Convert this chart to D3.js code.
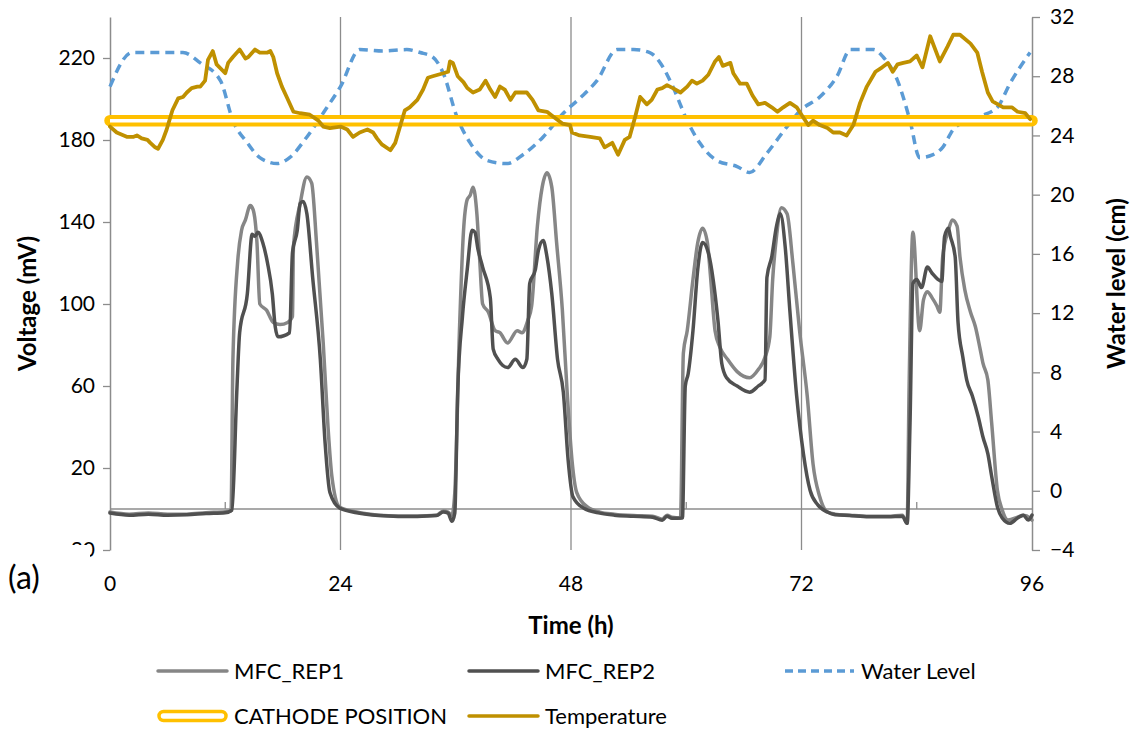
<!DOCTYPE html>
<html>
<head>
<meta charset="utf-8">
<script src="https://cdn.jsdelivr.net/npm/d3@7"></script>
<style>
  body { margin: 0; background: #fff; }
  text { font-family: Lato, "Open Sans", sans-serif; fill: #000; }
</style>
</head>
<body>
<script>
// chart data

// MFC replicate 1 (mV)
var rep1Hours = [0,2,4,6,8,10,12,12.6,12.8,13.3,13.7,14.1,14.6,14.9,15.3,15.6,16.3,17.0,17.7,18.5,19.0,19.1,19.8,20.5,21.0,21.5,22.2,22.7,23.1,23.9,25.7,28,30,32,34,34.7,35.2,35.6,
  35.9,36.4,36.8,37.2,37.5,37.8,38.2,38.5,38.8,39.4,40.1,40.6,41.4,42.4,42.9,43.5,43.9,44.5,45.0,45.5,46.0,46.5,47.1,47.6,48.1,48.6,49.7,51.0,52.5,54.5,56.5,57.5,58.0,58.5,59.4,
  59.7,60.1,60.7,61.2,61.7,62.2,62.5,63.0,63.5,64.3,65.3,66.6,67.5,68.2,68.7,69.0,69.4,69.9,70.5,71.1,71.8,72.6,73.2,73.9,74.7,75.5,77,79,81,82.5,83.0,
  83.2,83.6,84.3,84.7,85.1,85.6,86.1,86.4,86.7,87.3,87.7,88.2,88.5,89.0,89.6,90.1,90.6,90.9,91.4,91.8,92.4,92.9,93.5,94.5,95.1,95.8,96];
var rep1Values = [-1.5,-2.5,-2,-2.5,-2.5,-1.8,-1.3,-1,73,121,136,141,148,146,130,100,97,91,90,91,94,128,149,162,159,130,81,40,16,1,-1.5,-3,-3.4,-3.4,-3,-1,-1.5,-3,
  8,89,135,151,153,157,144,121,100,96,87,86,81,87,86,92,99,138,157,164,157,130,97,57,24,8,1,-1.5,-2.5,-3.2,-3.5,-5,-3,-4,-4.4,
  76,87,112,130,137,130,115,87,79,73,67,64,68,74,84,112,133,147,144,120,87,55,22,6,-1.5,-2.5,-3,-3.5,-3.5,-3,-7,
  58,135,87,102,106,103,99,96,123,136,141,138,123,107,96,89,78,71,63,42,9,-0.5,-5.4,-4,-3,-4.4,-5.4];

// MFC replicate 2 (mV)
var rep2Hours = [0,2,4,6,8,10,12,12.7,13.2,13.5,14.3,14.8,15.1,15.4,15.9,16.4,16.9,17.2,17.5,18.7,19.0,19.5,19.8,20.1,20.5,21.1,21.9,22.4,22.9,23.9,25.7,28,30,32,34,34.7,35.2,35.6,
  35.9,36.2,36.7,37.2,37.7,38.0,38.3,38.8,39.6,39.9,40.4,40.9,41.4,42.2,43.0,43.4,43.7,44.3,44.6,45.1,45.5,46.0,46.6,47.2,47.7,48.2,49.3,51.0,52.5,54.5,56.5,57.5,58.0,58.5,
  59.6,59.9,60.2,60.7,61.2,61.7,62.3,62.8,63.3,63.7,64.2,65.3,66.6,67.5,68.2,68.4,68.9,69.4,69.8,70.3,70.8,71.5,72.2,72.9,73.7,74.7,75.5,77,79,81,82.5,83.0,
  83.3,83.6,84.0,84.5,85.1,85.6,86.2,86.6,86.9,87.3,87.5,88.0,88.3,88.8,89.2,89.8,90.4,90.9,91.4,91.8,92.4,92.9,93.7,94.5,95.1,95.6,96];
var rep2Values = [-2,-3,-2.5,-3,-2.8,-2.2,-1.8,-0.5,57,86,105,134,133,135,130,120,105,89,84,86,125,136,149,150,144,113,73,32,8,0.5,-1.8,-3.2,-3.6,-3.6,-3.2,-1.5,-2,-6,
  -2,57,94,117,136,135,127,118,103,78,73,70,69,73,69,73,110,117,126,131,123,105,73,57,24,6,0.5,-2,-3,-3.5,-4,-5.5,-3.5,-4.5,
  -4.4,60,66,87,117,130,125,112,92,71,64,60,57,60,63,113,123,138,144,128,96,55,27,9,2,-1.5,-2.8,-3.2,-3.8,-3.8,-3.5,-7,
  42,110,112,108,118,115,112,111,133,137,133,123,91,74,63,55,45,35,27,16,1,-4.4,-7,-4.4,-3,-5.4,-3];

// water level (cm)
var waterHours = [0,2.3,4.5,7.6,9.4,11.5,12.8,14.3,15.6,17.4,18.7,20.5,22.6,24.0,26.0,28.4,30.9,32.3,33.6,34.7,36.1,37.5,39.3,41.3,43.0,45.1,47.2,48.9,
  50.7,52.8,54.5,56.2,57.3,58.6,60.1,61.4,63.2,65.3,66.6,68.4,70.5,71.9,73.9,75.7,77.1,79.5,80.5,82.0,83.3,84.3,85.7,86.7,87.8,88.8,90.6,92.4,93.7,95.8];
var waterValues = [27.3,29.6,29.6,29.6,28.9,27.7,25.0,23.5,22.5,22.1,22.5,23.9,25.9,27.3,29.8,29.7,29.8,29.6,29.3,28.2,25.3,23.5,22.3,22.1,22.7,23.9,25.5,26.5,
  27.7,29.8,29.8,29.6,28.9,27.3,25.0,23.5,22.3,21.9,21.5,22.8,24.6,25.7,26.6,28.0,29.8,29.8,29.3,27.7,25.0,22.5,22.7,23.2,24.4,24.9,25.3,25.9,27.5,29.6];

// cathode position (cm)
var cathodeHours = [0, 96];
var cathodeValues = [25, 25];

// temperature (secondary axis)
var tempHours = [0,0.7,1.8,2.4,2.8,3.3,3.9,4.2,4.7,5.0,5.5,5.9,6.5,7.1,7.6,8.0,8.5,9.1,9.4,9.9,10.2,10.7,11.1,12.0,12.3,12.8,13.5,14.1,14.4,15.1,15.6,16.4,16.7,17.0,17.4,17.9,18.4,19.1,19.8,20.8,21.7,22.2,22.9,
  24.0,24.7,25.3,26.0,26.8,27.4,27.8,28.3,29.2,29.7,30.2,30.7,31.2,32.0,32.6,33.1,33.6,34.7,35.2,35.4,35.7,36.2,36.8,37.2,37.8,38.5,39.1,39.6,40.1,40.6,41.1,41.7,42.2,42.9,43.4,44.0,44.6,45.5,46.1,47.1,47.9,
  48.1,48.9,50.0,51.0,51.5,52.3,52.9,53.6,54.1,54.7,55.2,55.9,56.4,57.0,57.5,58.0,58.6,59.4,60.1,60.6,61.1,61.7,62.3,63.0,63.4,63.8,64.6,64.9,65.6,66.3,66.9,67.5,68.2,68.9,69.5,70.1,70.8,71.5,
  72.1,72.7,73.2,73.9,74.7,75.3,76.0,76.7,77.4,78.1,78.8,79.7,80.4,81.0,81.5,82.0,82.6,83.3,84.0,84.6,85.4,86.4,87.2,87.8,88.5,89.6,90.3,90.8,91.4,91.9,93.0,93.9,94.5,95.3,95.8];
var tempValues = [24.6,24.2,23.9,23.9,24.0,23.8,23.7,23.5,23.2,23.1,23.7,24.4,25.7,26.5,26.6,26.9,27.2,27.3,27.3,27.7,29.1,29.7,28.8,28.2,28.9,29.3,29.8,29.2,29.3,29.8,29.6,29.6,29.7,29.3,28.2,27.3,26.6,25.6,25.5,25.4,25.0,24.6,24.5,
  24.6,24.4,23.9,24.2,24.4,24.2,23.8,23.4,23.0,23.5,24.6,25.7,25.9,26.4,27.1,27.9,28.0,28.2,28.3,29.0,28.9,28.0,27.6,27.2,26.9,27.1,27.7,27.1,26.6,27.3,27.1,26.4,26.9,26.9,26.9,26.4,25.7,25.6,25.3,24.8,24.7,
  24.2,24.0,23.9,23.8,23.2,23.5,22.7,23.7,23.9,25.3,26.6,26.1,26.4,27.1,27.2,27.4,27.2,26.9,27.3,27.7,27.5,27.7,28.1,29.0,29.3,28.7,28.9,28.2,27.5,27.5,26.7,26.1,26.2,25.9,25.6,25.9,26.2,25.9,
  25.3,24.7,25.0,24.7,24.5,24.2,24.2,24.0,24.7,26.2,27.3,28.3,28.6,28.9,28.3,28.8,28.9,29.0,29.4,28.6,30.7,29.0,30.0,30.8,30.8,30.2,29.6,28.3,26.9,26.3,25.9,25.9,25.6,25.5,25.1];

// tick labels
var xTicks = [0, 24, 48, 72, 96];
var xMinorTicks = [12, 36, 60, 84];
var leftTicks = [-20, 20, 60, 100, 140, 180, 220];
var rightTicks = [-4, 0, 4, 8, 12, 16, 20, 24, 28, 32];

// colours
var cRep1 = "#868686", cRep2 = "#505050", cWater = "#5B9BD5", cCathode = "#FFC000", cTemp = "#BF9000";
var axisColor = "#8c8c8c";

var width = 1133, height = 736;
var margin = {left: 110, right: 101, top: 17, bottom: 186};

var svg = d3.select("body").append("svg")
  .attr("width", width)
  .attr("height", height);

svg.append("rect").attr("width", width).attr("height", height).attr("fill", "#fff");

var xScale = d3.scaleLinear().domain([0, 96]).range([margin.left, width - margin.right]);
var yLeft = d3.scaleLinear().domain([-20, 240]).range([height - margin.bottom, margin.top]);
var yRight = d3.scaleLinear().domain([-4, 32]).range([height - margin.bottom, margin.top]);

var x0 = xScale(0), x1 = xScale(96), yTop = margin.top, yBot = height - margin.bottom;

// vertical gridlines
svg.selectAll(".grid").data([24, 48, 72]).enter().append("line")
  .attr("x1", function(d){ return xScale(d); })
  .attr("x2", function(d){ return xScale(d); })
  .attr("y1", yTop).attr("y2", yBot)
  .attr("stroke", axisColor).attr("stroke-width", 1.3);

// horizontal axis at 0 mV
svg.append("line")
  .attr("x1", x0).attr("x2", x1)
  .attr("y1", yLeft(0)).attr("y2", yLeft(0))
  .attr("stroke", axisColor).attr("stroke-width", 1.5);

svg.selectAll(".minor").data(xMinorTicks).enter().append("line")
  .attr("x1", function(d){ return xScale(d); })
  .attr("x2", function(d){ return xScale(d); })
  .attr("y1", yLeft(0) - 7).attr("y2", yLeft(0))
  .attr("stroke", axisColor).attr("stroke-width", 1.3);

// left axis
var leftAxis = svg.append("g")
  .attr("transform", "translate(" + x0 + ",0)")
  .call(d3.axisLeft(yLeft).tickValues(leftTicks).tickSize(7).tickPadding(8).tickSizeOuter(0));

// right axis
var rightAxis = svg.append("g")
  .attr("transform", "translate(" + x1 + ",0)")
  .call(d3.axisRight(yRight).tickValues(rightTicks).tickSize(8).tickPadding(10).tickSizeOuter(0));

[leftAxis, rightAxis].forEach(function(ax){
  ax.select(".domain").attr("stroke", axisColor).attr("stroke-width", 1.5);
  ax.selectAll(".tick line").attr("stroke", axisColor).attr("stroke-width", 1.3);
  ax.selectAll(".tick text").style("font-size", "21px").style("font-family", "Lato").attr("fill", "#000");
});

// x tick labels (no visible bottom axis line)
svg.selectAll(".xlab").data(xTicks).enter().append("text")
  .attr("x", function(d){ return xScale(d); })
  .attr("y", 591)
  .attr("text-anchor", "middle")
  .style("font-size", "21px")
  .text(function(d){ return d; });

// lines
function drawSeries(hours, values, scale, color, widthPx, dash, curve) {
  var pts = hours.map(function(h, i){ return [h, values[i]]; });
  var line = d3.line()
    .x(function(d){ return xScale(d[0]); })
    .y(function(d){ return scale(d[1]); })
    .curve(curve || d3.curveLinear);
  return svg.append("path")
    .datum(pts)
    .attr("d", line)
    .attr("fill", "none")
    .attr("stroke", color)
    .attr("stroke-width", widthPx)
    .attr("stroke-linejoin", "round")
    .attr("stroke-linecap", "round")
    .attr("stroke-dasharray", dash || null);
}

drawSeries(rep1Hours, rep1Values, yLeft, cRep1, 3.5, null, d3.curveMonotoneX);
drawSeries(rep2Hours, rep2Values, yLeft, cRep2, 3.5, null, d3.curveMonotoneX);
drawSeries(waterHours, waterValues, yRight, cWater, 3.5, "9,6", d3.curveMonotoneX).attr("stroke-linecap", "butt");
// cathode: double line (yellow outline, white core)
drawSeries(cathodeHours, cathodeValues, yRight, cCathode, 11.5);
drawSeries(cathodeHours, cathodeValues, yRight, "#fff", 3.5).attr("stroke-linecap", "butt");
drawSeries(tempHours, tempValues, yRight, cTemp, 3.8);

// axis titles
svg.append("text")
  .attr("transform", "translate(36," + ((yTop + yBot) / 2 + 20) + ") rotate(-90)")
  .attr("text-anchor", "middle")
  .style("font-size", "24px").style("font-weight", "bold")
  .text("Voltage (mV)");

svg.append("text")
  .attr("transform", "translate(1125," + ((yTop + yBot) / 2) + ") rotate(-90)")
  .attr("text-anchor", "middle")
  .style("font-size", "24px").style("font-weight", "bold")
  .text("Water level (cm)");

svg.append("text")
  .attr("x", xScale(48)).attr("y", 634)
  .attr("text-anchor", "middle")
  .style("font-size", "24px").style("font-weight", "bold")
  .text("Time (h)");

// "(a)" panel label covers part of the -20 tick label
svg.append("rect").attr("x", 0).attr("y", 545).attr("width", 90).attr("height", 50).attr("fill", "#fff");
svg.append("text")
  .attr("x", 8).attr("y", 589)
  .style("font-size", "32px")
  .text("(a)");

// legend
var legendItems = [
  {name: "MFC_REP1", color: cRep1, x: 157, y: 671, type: "line"},
  {name: "MFC_REP2", color: cRep2, x: 468, y: 671, type: "line"},
  {name: "Water Level", color: cWater, x: 784, y: 671, type: "dash"},
  {name: "CATHODE POSITION", color: cCathode, x: 157, y: 716, type: "double"},
  {name: "Temperature", color: cTemp, x: 468, y: 716, type: "line"}
];

var legend = svg.selectAll(".legend").data(legendItems).enter().append("g")
  .attr("transform", function(d){ return "translate(" + d.x + "," + d.y + ")"; });

legend.each(function(d){
  var g = d3.select(this);
  if (d.type === "double") {
    g.append("rect").attr("x", 2).attr("y", -4.5).attr("width", 67).attr("height", 9)
      .attr("rx", 4.5).attr("fill", "#fff").attr("stroke", d.color).attr("stroke-width", 3.5);
  } else {
    g.append("line").attr("x1", 1).attr("x2", 70).attr("y1", 0).attr("y2", 0)
      .attr("stroke", d.color).attr("stroke-width", 3.5)
      .attr("stroke-linecap", d.type === "dash" ? "butt" : "round")
      .attr("stroke-dasharray", d.type === "dash" ? "8,5" : null);
  }
  g.append("text").attr("x", 77).attr("y", 0).attr("dy", "0.35em")
    .style("font-size", "22px")
    .text(d.name);
});
</script>
</body>
</html>
